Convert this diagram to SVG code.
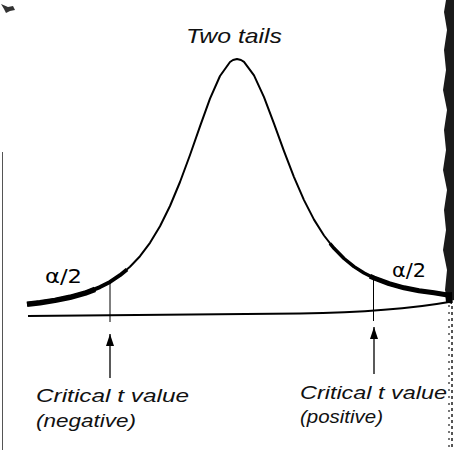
<svg xmlns="http://www.w3.org/2000/svg" width="454" height="450" viewBox="0 0 454 450">
<style>
.curve{fill:none;stroke:#000;stroke-linejoin:round;stroke-linecap:butt}
.thin{fill:none;stroke:#000;stroke-width:1}
.lab{font-family:"Liberation Sans","DejaVu Sans",sans-serif;font-style:italic;fill:#111}
.greek{font-family:"DejaVu Sans","Liberation Sans",sans-serif;fill:#000}
</style>
<defs>
<marker id="ah" viewBox="0 0 12 8" refX="12" refY="4" markerWidth="12" markerHeight="8" markerUnits="userSpaceOnUse" orient="auto">
<path d="M0,0 L12,4 L0,8 z" fill="#000"/>
</marker>
</defs>
<rect width="454" height="450" fill="#fff"/>
<!-- scan artifacts -->
<g id="scan">
<path d="M1,4 L8,7 L13,6 L15,10 L10,11 L6,13 L4,9 Z" fill="#333"/>
<line x1="2.5" y1="152" x2="2.5" y2="450" stroke="#555" stroke-width="1"/>
<polygon points="446,0 454,0 454,300 448,302 445,290 447,270 443,250 446,230 444,210 447,190 443,170 446,150 444,130 447,110 443,90 446,70 444,50 447,30 444,12" fill="#1a1a1a"/>
<line x1="449" y1="305" x2="449" y2="450" stroke="#777" stroke-width="2" stroke-dasharray="2 5"/>
<line x1="452" y1="300" x2="452" y2="450" stroke="#555" stroke-width="2" stroke-dasharray="3 3"/>
</g>
<g id="distribution">
<polyline class="curve" stroke-width="2" points="27,303.9 40,302.5 55,300.3 70,297.2 85,293.1 100,287.1 110,281.9 120,275.2 130,266.8 140,256.2 150,242.8 160,226.2 170,206 180,182 190,155 200,126.3 210,98.7 220,76 230,62 233,60 237,59 241,60 244,61.9 254,75.3 264,97.1 274,123.6 284,151.1 294,177.1 304,200.1 314,219.6 324,235.5 334,248.3 344,258.5 354,266.6 364,273 374,278 389,283.7 404,287.8 419,290.7 434,292.8 449,295"/>
<polyline class="curve" stroke-width="4" points="27,303.9 40,302.5 55,300.3 70,297.2 85,293.1 100,287.1 110,281.9 120,275.2 127,269.5"/>
<polyline class="curve" stroke-width="5.5" points="27,304.2 40,302.7 55,300.4 70,297.3 85,293.2 95,289.4"/>
<polyline class="curve" stroke-width="3.5" points="330,243.5 334,248.3 344,258.5 354,266.6 364,273 374,278 389,283.7 404,287.8 419,290.7 434,292.8 449,295"/>
<polyline class="curve" stroke-width="5" points="370,276.2 374,278 389,283.7 404,287.8 419,290.7 434,292.8 449,295.2"/>
<polygon points="445,293 452,292 452,304 446,302" fill="#000"/>
</g>
<g id="axis">
<path class="curve" stroke-width="2" d="M28,316 L300,313.5 C360,312.5 410,309 449,302"/>
</g>
<g id="critical-neg">
<line class="thin" x1="110" y1="281" x2="110" y2="322"/>
</g>
<g id="critical-pos">
<line class="thin" x1="373.5" y1="278" x2="373.5" y2="321"/>
</g>
<g id="connectors">
<line x1="110" y1="378" x2="110" y2="334" stroke="#000" stroke-width="1.3" marker-end="url(#ah)"/>
<line x1="374" y1="374" x2="374" y2="327" stroke="#000" stroke-width="1.3" marker-end="url(#ah)"/>
</g>
<g id="title">
<text class="lab" x="186" y="43" font-size="21" textLength="96" lengthAdjust="spacingAndGlyphs">Two tails</text>
</g>
<g id="alpha-left">
<text class="greek" x="45" y="283" font-size="19" textLength="37" lengthAdjust="spacingAndGlyphs">α/2</text>
</g>
<g id="alpha-right">
<text class="greek" x="392" y="277" font-size="19" textLength="34" lengthAdjust="spacingAndGlyphs">α/2</text>
</g>
<g id="label-neg">
<text class="lab" x="36" y="402" font-size="19" textLength="153" lengthAdjust="spacingAndGlyphs">Critical t value</text>
<text class="lab" x="36" y="427" font-size="19" textLength="100" lengthAdjust="spacingAndGlyphs">(negative)</text>
</g>
<g id="label-pos">
<text class="lab" x="300" y="399" font-size="19" textLength="147" lengthAdjust="spacingAndGlyphs">Critical t value</text>
<text class="lab" x="300" y="423" font-size="19" textLength="83" lengthAdjust="spacingAndGlyphs">(positive)</text>
</g>
</svg>
